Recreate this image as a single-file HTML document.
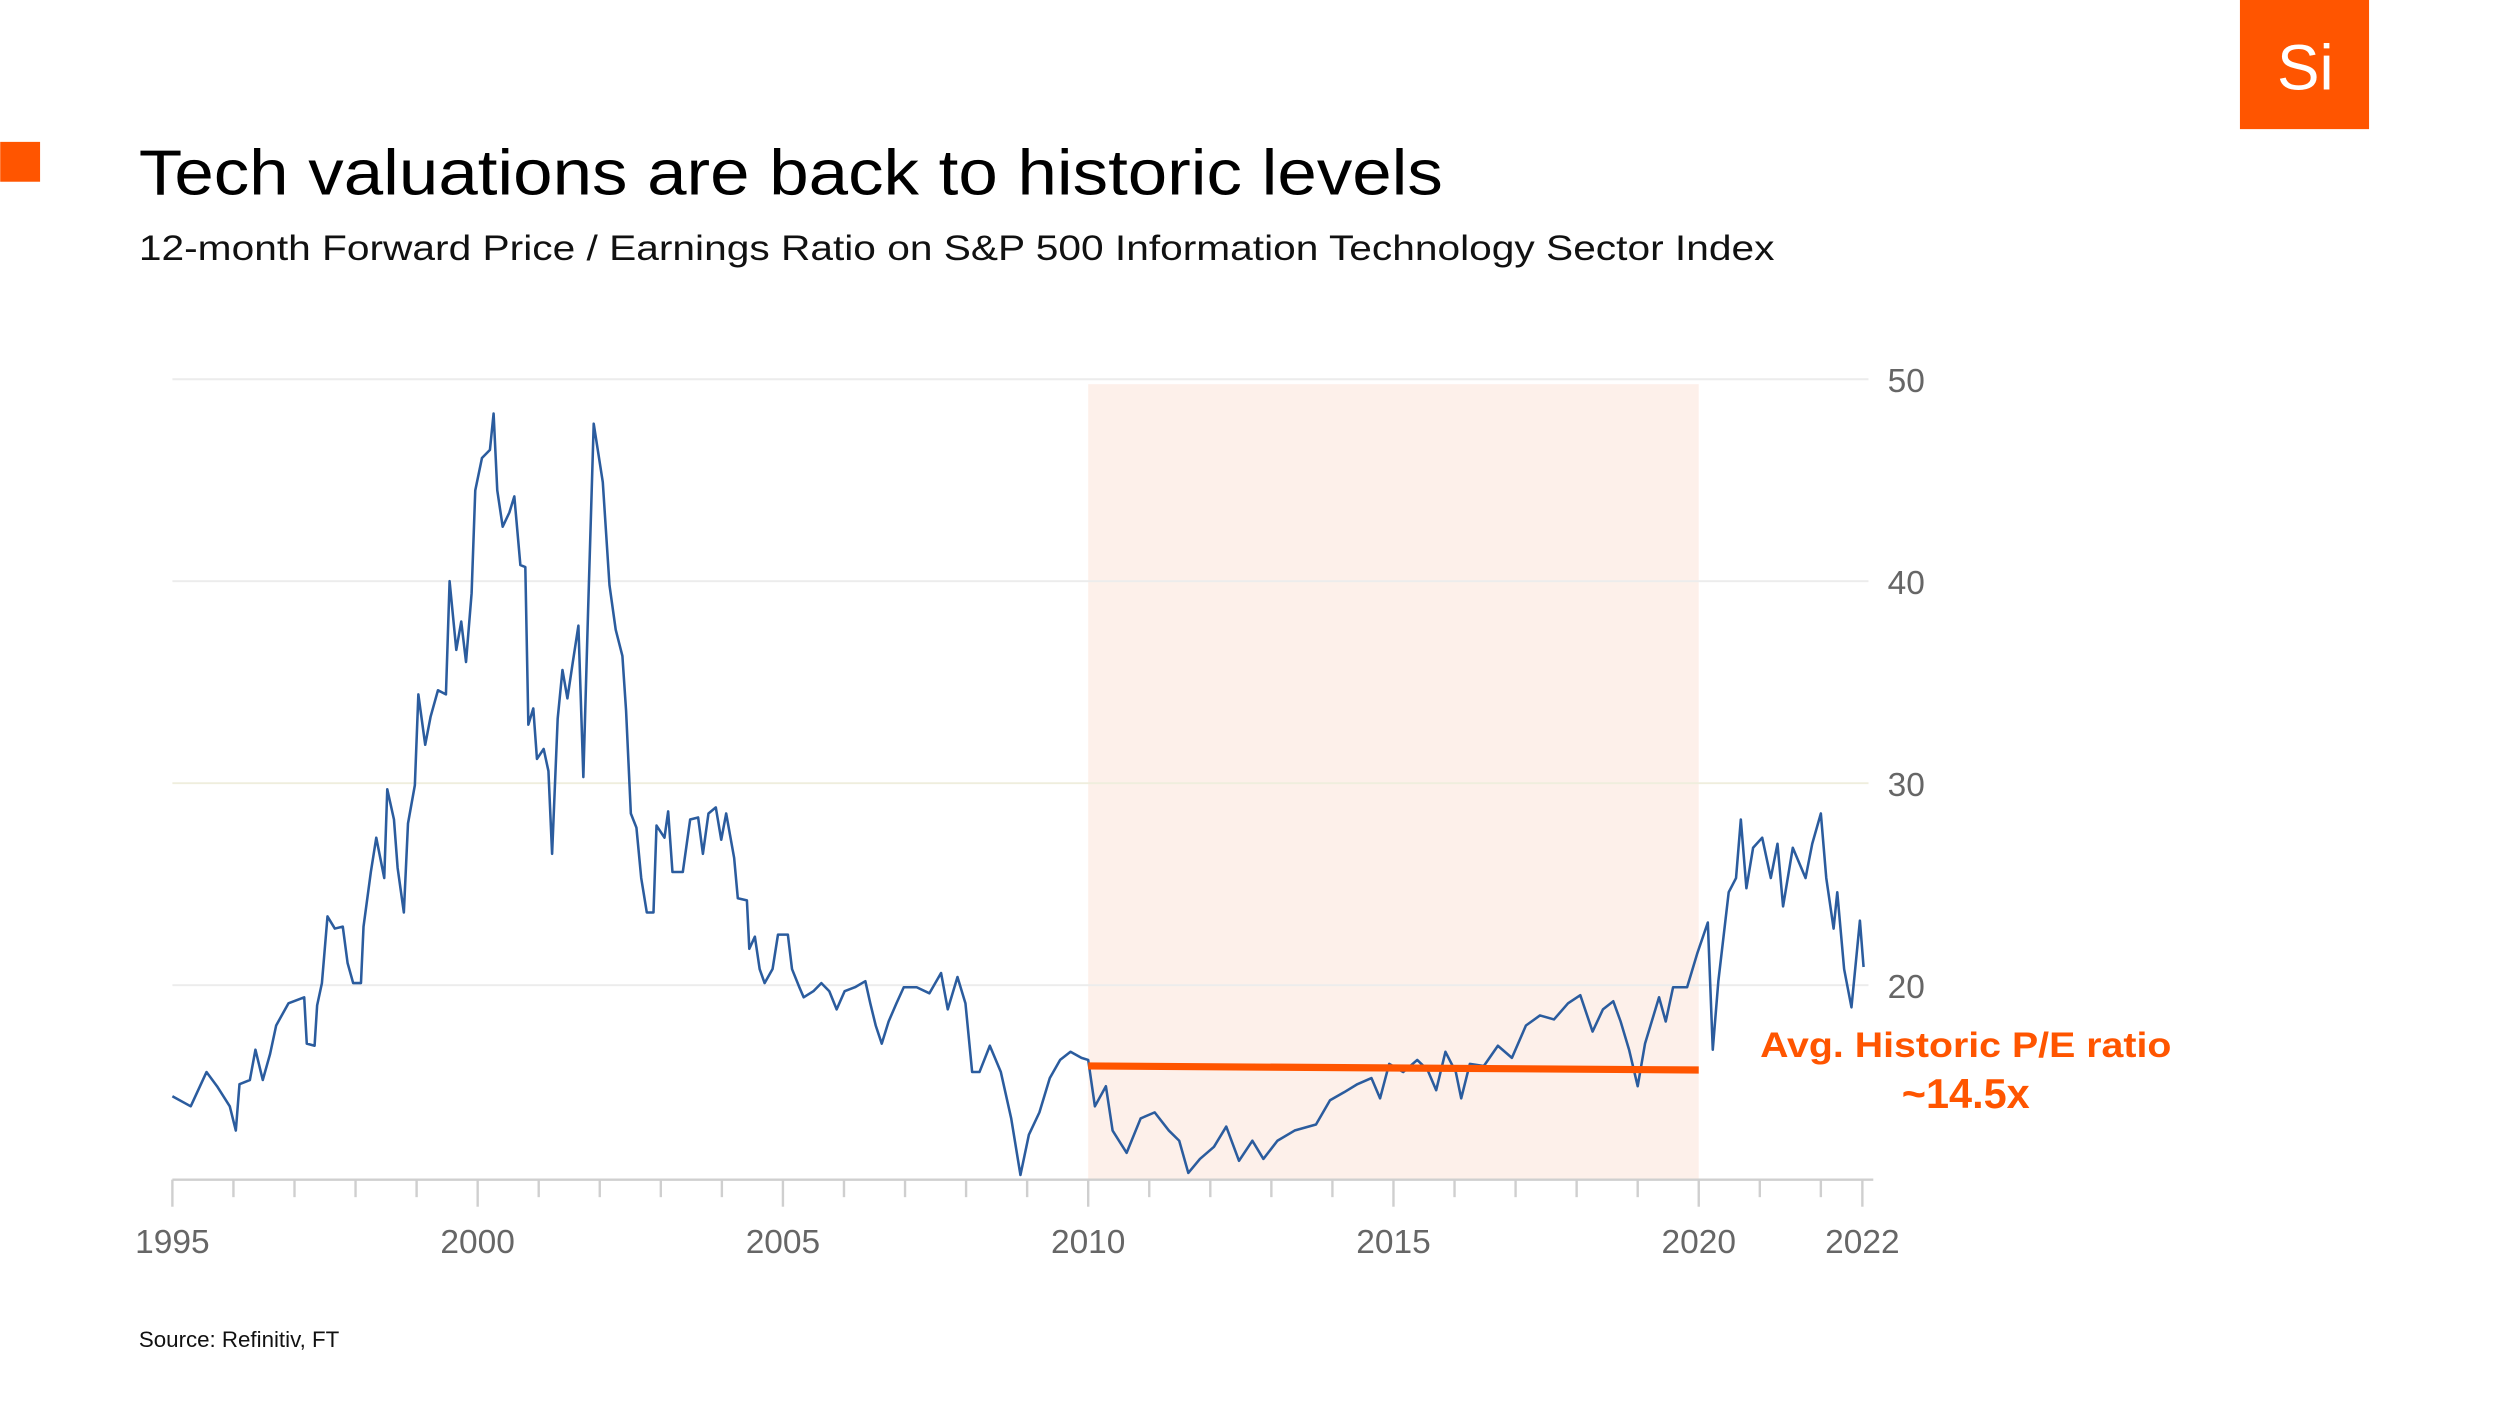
<!DOCTYPE html>
<html><head><meta charset="utf-8"><style>
html,body{margin:0;padding:0;background:#fff;}
svg{display:block;}
text{font-family:"Liberation Sans",sans-serif;}
</style></head><body>
<svg width="2500" height="1406" viewBox="0 0 1568 882" xmlns="http://www.w3.org/2000/svg">
<rect x="1405" y="0" width="81" height="81" fill="#ff5500"/>
<text x="1446" y="56" font-size="40" fill="#fff" text-anchor="middle">Si</text>
<rect x="0" y="89" width="25" height="25" fill="#ff5500"/>
<text x="87" y="122" font-size="40" fill="#000" textLength="818" lengthAdjust="spacingAndGlyphs">Tech valuations are back to historic levels</text>
<text x="87" y="163" font-size="22" fill="#111" textLength="1026" lengthAdjust="spacingAndGlyphs">12-month Forward Price / Earnings Ratio on S&amp;P 500 Information Technology Sector Index</text>
<text x="87" y="845" font-size="14" fill="#111">Source: Refinitiv, FT</text>
<g id="plot"></g>
<text x="1233" y="663" font-size="22" font-weight="bold" fill="#ff5500" text-anchor="middle" textLength="258" lengthAdjust="spacingAndGlyphs">Avg. Historic P/E ratio</text>
<text x="1233" y="695" font-size="26" font-weight="bold" fill="#ff5500" text-anchor="middle">~14.5x</text>
</svg>
<script>
const years = [1995.0,1995.3,1995.56,1995.73,1995.94,1996.04,1996.1,1996.27,1996.36,1996.48,1996.6,1996.7,1996.9,1997.16,1997.2,1997.33,1997.37,1997.45,1997.54,1997.66,1997.79,1997.87,1997.96,1998.09,1998.13,1998.25,1998.34,1998.47,1998.52,1998.63,1998.69,1998.79,1998.86,1998.97,1999.03,1999.14,1999.23,1999.35,1999.48,1999.54,1999.65,1999.73,1999.81,1999.9,1999.96,2000.07,2000.2,2000.26,2000.32,2000.41,2000.52,2000.6,2000.7,2000.78,2000.83,2000.91,2000.97,2001.08,2001.16,2001.22,2001.31,2001.39,2001.47,2001.56,2001.65,2001.73,2001.81,2001.9,2002.05,2002.16,2002.26,2002.37,2002.43,2002.51,2002.6,2002.68,2002.77,2002.88,2002.93,2003.06,2003.12,2003.19,2003.36,2003.48,2003.61,2003.69,2003.78,2003.9,2003.99,2004.07,2004.2,2004.26,2004.41,2004.45,2004.54,2004.62,2004.7,2004.83,2004.92,2005.08,2005.15,2005.27,2005.34,2005.5,2005.63,2005.76,2005.88,2006.01,2006.18,2006.35,2006.43,2006.52,2006.62,2006.73,2006.86,2006.98,2007.19,2007.4,2007.59,2007.7,2007.86,2007.99,2008.1,2008.22,2008.39,2008.57,2008.74,2008.89,2009.03,2009.2,2009.37,2009.54,2009.71,2009.89,2010.0,2010.11,2010.29,2010.4,2010.63,2010.86,2011.09,2011.32,2011.49,2011.64,2011.83,2012.06,2012.26,2012.47,2012.69,2012.87,2013.1,2013.38,2013.73,2013.96,2014.19,2014.41,2014.64,2014.78,2014.93,2015.16,2015.39,2015.56,2015.7,2015.85,2016.02,2016.11,2016.25,2016.48,2016.71,2016.94,2017.17,2017.4,2017.63,2017.86,2018.06,2018.26,2018.43,2018.6,2018.72,2018.86,2019.0,2019.12,2019.35,2019.46,2019.58,2019.81,2019.98,2020.15,2020.23,2020.32,2020.49,2020.61,2020.69,2020.78,2020.89,2021.04,2021.18,2021.29,2021.38,2021.54,2021.75,2021.86,2022.0,2022.09,2022.21,2022.27,2022.38,2022.5,2022.64,2022.7];
const peValues = [14.5,14.0,15.7,15.0,14.0,12.8,15.1,15.3,16.8,15.3,16.6,18.0,19.1,19.4,17.1,17.0,19.0,20.1,23.4,22.8,22.9,21.1,20.1,20.1,22.9,25.6,27.3,25.3,29.7,28.2,25.8,23.6,28.0,29.9,34.4,31.9,33.3,34.6,34.4,40.0,36.6,38.0,36.0,39.4,44.5,46.1,46.5,48.3,44.5,42.7,43.4,44.2,40.8,40.7,32.9,33.7,31.2,31.7,30.6,26.5,33.2,35.6,34.2,36.0,37.8,30.3,38.6,47.8,44.9,39.8,37.6,36.3,33.6,28.5,27.8,25.3,23.6,23.6,27.9,27.3,28.6,25.6,25.6,28.2,28.3,26.5,28.5,28.8,27.2,28.5,26.3,24.3,24.2,21.8,22.4,20.8,20.1,20.8,22.5,22.5,20.8,19.9,19.4,19.7,20.1,19.7,18.8,19.7,19.9,20.2,19.1,18.0,17.1,18.2,19.1,19.9,19.9,19.6,20.6,18.8,20.4,19.1,15.7,15.7,17.0,15.7,13.4,10.6,12.6,13.7,15.4,16.3,16.7,16.4,16.3,14.0,15.0,12.8,11.7,13.4,13.7,12.8,12.3,10.7,11.4,12.0,13.0,11.3,12.3,11.4,12.3,12.8,13.1,14.3,14.7,15.1,15.4,14.4,16.1,15.7,16.3,15.8,14.8,16.7,15.7,14.4,16.1,16.0,17.0,16.4,18.0,18.5,18.3,19.1,19.5,17.7,18.8,19.2,18.2,16.8,15.0,17.1,19.4,18.2,19.9,19.9,21.6,23.1,16.8,20.2,24.6,25.3,28.2,24.8,26.8,27.3,25.3,27.0,23.9,26.8,25.3,27.0,28.5,25.3,22.8,24.6,20.8,18.9,23.2,20.9];
const yTicks = [20,30,40,50];
const xLabels = [1995,2000,2005,2010,2015,2020,2022];
const avgLineYears = [2010,2020];
const avgLineValues = [16.0,15.8];
const shadeYears = [2010,2020];

const NS="http://www.w3.org/2000/svg";
const plot=document.getElementById('plot');
const X0=108, PXY=38.3, Y20=618, PXV=12.67;
const xs=t=>X0+(t-1995)*PXY;
const xl=l=>l===2022?xs(2022.68):xs(l);
const ys=v=>Y20-(v-20)*PXV;
function mk(tag,attrs){const e=document.createElementNS(NS,tag);for(const k in attrs)e.setAttribute(k,attrs[k]);plot.appendChild(e);return e;}

let e=mk('rect',{x:xs(shadeYears[0]),y:241,width:xs(shadeYears[1])-xs(shadeYears[0]),height:740-241,fill:'#fdf0ea'});



yTicks.forEach(v=>{
  const g=mk('line',{x1:108,x2:1172,y1:ys(v),y2:ys(v),stroke:v===30?'#efeedd':'#ececec','stroke-width':1.2});
  
  
  const t=mk('text',{x:1184,y:ys(v)+8,'font-size':21,fill:'#666'});
  t.textContent=v;
  
  
});

const ax=mk('line',{x1:108,x2:1175,y1:740,y2:740,stroke:'#cfcfcf','stroke-width':1.5});


for(let y=1995;y<=2022;y++){
  const major=(y%5===0);
  const tk=mk('line',{x1:xs(y),x2:xs(y),y1:740,y2:major?757:751,stroke:'#cfcfcf','stroke-width':1.5});
  
  
}
const endTk=mk('line',{x1:xl(2022),x2:xl(2022),y1:740,y2:757,stroke:'#cfcfcf','stroke-width':1.5});


xLabels.forEach(l=>{
  const t=mk('text',{x:xl(l),y:786,'font-size':21,fill:'#666','text-anchor':'middle'});
  t.textContent=l;
  
  
});

const pts=years.map((t,i)=>xs(t).toFixed(1)+','+ys(peValues[i]).toFixed(1)).join(' ');
const line=mk('polyline',{points:pts,fill:'none',stroke:'#2b5c9e','stroke-width':1.6,'stroke-linejoin':'round'});



const avg=mk('line',{x1:xs(avgLineYears[0]),x2:xs(avgLineYears[1]),y1:ys(avgLineValues[0]),y2:ys(avgLineValues[1]),stroke:'#ff5500','stroke-width':4.5});


</script>
</body></html>
